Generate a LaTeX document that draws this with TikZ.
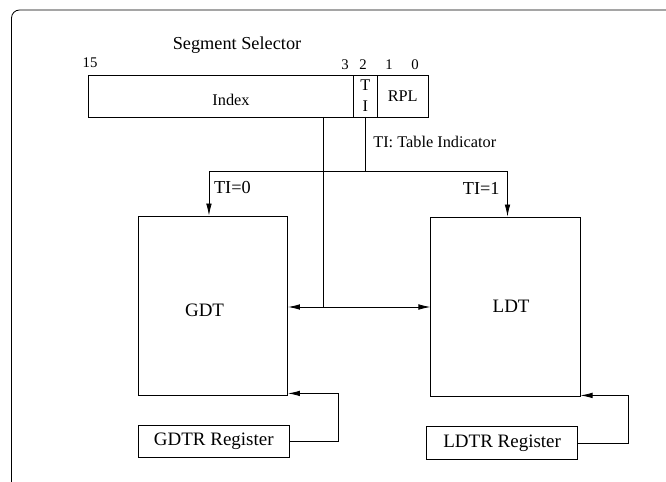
\documentclass[tikz,border=0pt]{standalone}
\usepackage{fontspec}
\setmainfont{Liberation Serif}
\usetikzlibrary{arrows.meta,positioning}

\begin{document}
\begin{tikzpicture}[
    line width=0.6pt,
    smallfont/.style={font=\fontsize{11.6}{15}\selectfont},
    bigfont/.style={font=\fontsize{13.5}{16}\selectfont},
    field/.style={rectangle, draw, inner sep=0pt, outer sep=0pt, minimum height=1.05cm, align=center, smallfont},
    tablebox/.style={rectangle, draw, minimum width=3.73cm, minimum height=4.475cm},
    regbox/.style={rectangle, draw, inner sep=0pt, minimum width=3.77cm, minimum height=0.82cm, bigfont},
    bit/.style={font=\fontsize{10.5}{12}\selectfont},
    arrow/.style={-{Latex[length=3mm,width=1.4mm]}},
    dblarrow/.style={{Latex[length=3mm,width=1.4mm]}-{Latex[length=3mm,width=1.4mm]}}
]
\useasboundingbox (0,0) rectangle (16.65,-12.05);
% Frame
\draw[rounded corners=0.2cm] (0.2875,-12.05) |- (16.65,-0.25);
% Segment selector
\node[font=\fontsize{13}{15}\selectfont] (title) at (5.925,-1.125) {Segment Selector};
\node[field, minimum width=6.633cm, label={[xshift=0.26cm,yshift=-0.1cm,smallfont]center:Index}] (index) at (5.516,-2.4) {};
\node[field, minimum width=0.605cm, right=0pt of index] (ti) {T\\I};
\node[field, minimum width=1.2625cm, right=0pt of ti] (rpl) {RPL};
% Bit numbers
\node[bit] (b15) at (2.25,-1.5625) {15};
\node[bit] (b3) at (8.625,-1.625) {3};
\node[bit] (b2) at (9.075,-1.625) {2};
\node[bit] (b1) at (9.725,-1.625) {1};
\node[bit] (b0) at (10.375,-1.625) {0};
% Descriptor tables
\node[tablebox, label={[xshift=-0.21cm,yshift=-0.11cm,bigfont]center:GDT}] (gdt) at (5.324,-7.6375) {};
\node[tablebox, label={[xshift=0.14cm,bigfont]center:LDT}] (ldt) at (12.6375,-7.6625) {};
% Registers
\node[regbox] (gdtr) at (5.345,-11.0375) {GDTR Register};
\node[regbox] (ldtr) at (12.554,-11.075) {LDTR Register};
% Arrows
\coordinate (join) at (8.09,-7.675);
\coordinate (split) at (ti.south |- 0,-4.275);
\draw (index.south -| join) -- (join);
\draw[dblarrow] (gdt.east |- join) -- (ldt.west |- join);
\draw (ti.south) -- node[right, pos=0.46, xshift=2pt, smallfont] {TI: Table Indicator} (split);
\draw[arrow] (split) -| node[right, pos=0.69, font=\fontsize{13}{15}\selectfont] {TI=0} ([xshift=-0.1cm]gdt.north);
\draw[arrow] (split) -| node[left, pos=0.69, xshift=-2pt, font=\fontsize{13}{15}\selectfont] {TI=1} ([xshift=0.05cm]ldt.north);
\draw[arrow] (gdtr.east) -| ([xshift=1.27cm,yshift=0.05cm]gdt.south east) -- ([yshift=0.05cm]gdt.south east);
\draw[arrow] (ldtr.east) -| ([xshift=1.19cm,yshift=0.025cm]ldt.south east) -- ([yshift=0.025cm]ldt.south east);
\end{tikzpicture}
\end{document}
